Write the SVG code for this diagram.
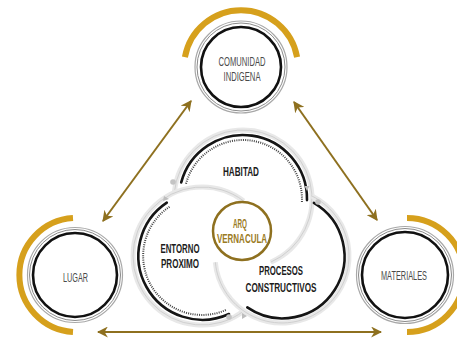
<svg xmlns="http://www.w3.org/2000/svg" width="457" height="340" viewBox="0 0 457 340">
<defs>
<marker id="ah" viewBox="0 0 10 10" refX="9" refY="5" markerWidth="5.5" markerHeight="5.5" orient="auto-start-reverse" markerUnits="strokeWidth">
<path d="M0,0 L10,5 L0,10 L3,5 z" fill="#8e701f"/>
</marker>
<style>
.gold{fill:none;stroke:#d6a01c;stroke-width:6}
.blk{fill:none;stroke:#111;stroke-width:2.6}
.gr1{fill:none;stroke:#8a8a8a;stroke-width:1}
.gr2{fill:none;stroke:#a8a8a8;stroke-width:1.2}
.arr{fill:none;stroke:#8e701f;stroke-width:2;marker-start:url(#ah);marker-end:url(#ah)}
.soft{fill:none;stroke:#e8e8e8;stroke-width:5}
.soft2{fill:none;stroke:#d0d0d0;stroke-width:1}
.barc{fill:none;stroke:#151515;stroke-width:2.6;stroke-linecap:round}
.dot{fill:none;stroke:#444;stroke-width:2;stroke-dasharray:1 1.2}
.lbl{font-family:"Liberation Sans",Arial,sans-serif;font-size:12px;fill:#4a4a4a;text-anchor:middle}
.in{font-family:"Liberation Sans",Arial,sans-serif;font-size:12px;font-weight:bold;fill:#1c1c1c;text-anchor:middle}
.arq{font-family:"Liberation Sans",Arial,sans-serif;font-size:12.5px;font-weight:bold;fill:#9a7a22;text-anchor:middle}
.jd{fill:#c4c4c4}
.tk{fill:#bdbdbd}
</style>
</defs>
<g id="connectors">
<line class="arr" x1="191" y1="101" x2="103" y2="221"/>
<line class="arr" x1="294" y1="102" x2="377" y2="220"/>
<line class="arr" x1="98" y1="332" x2="381" y2="332"/>
</g>
<g id="comunidad">
<path class="gold" d="M184.9 57.1 A57 57 0 0 1 297.1 57.1"/>
<circle class="gr2" cx="241" cy="67" r="46"/>
<circle class="gr1" cx="241" cy="67" r="44"/>
<circle class="blk" cx="241" cy="67" r="40"/>
<text class="lbl" x="242" y="66" textLength="47" lengthAdjust="spacingAndGlyphs">COMUNIDAD</text>
<text class="lbl" x="242" y="81" textLength="37" lengthAdjust="spacingAndGlyphs">INDIGENA</text>
</g>
<g id="lugar">
<path class="gold" d="M73 331.9 A57 57 0 0 1 73 218.1"/>
<circle class="gr2" cx="75" cy="275" r="47.5"/>
<circle class="gr1" cx="75" cy="275" r="45.5"/>
<circle class="blk" cx="75" cy="275" r="42"/>
<text class="lbl" x="75.5" y="282" textLength="25" lengthAdjust="spacingAndGlyphs">LUGAR</text>
</g>
<g id="materiales">
<path class="gold" d="M407 218 A57 57 0 0 1 407 332"/>
<circle class="gr2" cx="405" cy="275" r="48.5"/>
<circle class="gr1" cx="405" cy="275" r="46.5"/>
<circle class="blk" cx="405" cy="275" r="43"/>
<text class="lbl" x="404" y="280" textLength="46" lengthAdjust="spacingAndGlyphs">MATERIALES</text>
</g>
<g id="habitad">
<path class="soft" d="M174.3 192.8 A69 69 0 1 1 270.7 262.2"/>
<path class="soft2" d="M174.3 192.8 A69 69 0 1 1 270.7 262.2"/>
<path class="barc" d="M181.2 182.4 A64 64 0 0 1 307 200.1"/>
<path class="dot" d="M186 183.7 A59 59 0 0 1 301.9 202.1"/>
<text class="in" x="241" y="176" textLength="36" lengthAdjust="spacingAndGlyphs">HABITAD</text>
</g>
<g id="entorno">
<path class="soft" d="M243.7 311 A69 69 0 1 1 243.7 201"/>
<path class="soft2" d="M243.7 311 A69 69 0 1 1 243.7 201"/>
<path class="barc" d="M166.8 202.6 A64 64 0 0 0 229 314"/>
<path class="dot" d="M169.5 206.8 A59 59 0 0 0 226.9 309.5"/>
<text class="in" x="180" y="253" textLength="39" lengthAdjust="spacingAndGlyphs">ENTORNO</text>
<text class="in" x="180" y="268" textLength="38" lengthAdjust="spacingAndGlyphs">PROXIMO</text>
</g>
<g id="procesos">
<path class="soft" d="M311.9 196 A67 67 0 1 1 215.3 262.2"/>
<path class="soft2" d="M311.9 196 A67 67 0 1 1 215.3 262.2"/>
<path class="barc" d="M313.9 202.9 A62 62 0 1 1 247.3 307.4"/>
<text class="in" x="281" y="275" textLength="44" lengthAdjust="spacingAndGlyphs">PROCESOS</text>
<text class="in" x="281" y="292" textLength="71" lengthAdjust="spacingAndGlyphs">CONSTRUCTIVOS</text>
</g>
<g id="junctions">
<circle class="jd" cx="173" cy="182" r="2.8"/>
<circle class="jd" cx="318" cy="202" r="2.8"/>
<circle class="jd" cx="229" cy="317" r="2.8"/>
<path class="tk" d="M304.5 186 L309.5 186 L307 191 z"/>
<path class="tk" d="M164 196 L169 199 L163 201 z"/>
<path class="tk" d="M242 313 L247 316 L242 319 z"/>
</g>
<g id="arq">
<circle cx="242" cy="231" r="29" fill="#fff" fill-opacity="0.6" stroke="#8e701f" stroke-width="2.5"/>
<text class="arq" x="240" y="228" textLength="14" lengthAdjust="spacingAndGlyphs">ARQ</text>
<text class="arq" x="242" y="243" textLength="50" lengthAdjust="spacingAndGlyphs">VERNACULA</text>
</g>
</svg>
